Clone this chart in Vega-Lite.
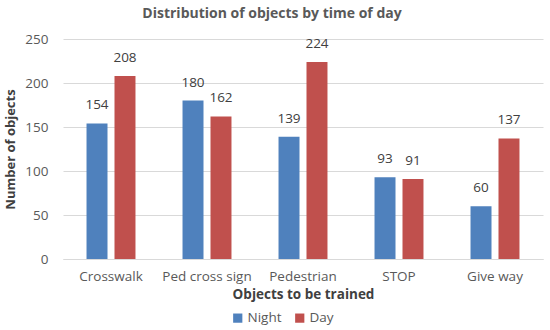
{
  "$schema": "https://vega.github.io/schema/vega-lite/v6.json",
  "width": 480,
  "height": 220,
  "autosize": {"type": "none"},
  "padding": {"left": 63, "right": 7, "top": 39, "bottom": 71},
  "background": "white",
  "title": {"text": "Distribution of objects by time of day", "font": "Open Sans", "fontSize": 14, "fontWeight": "bold", "color": "#595959", "offset": 11, "anchor": "middle", "frame": "group", "dx": -31},
  "data": {"values": [
    {"object": "Crosswalk", "time": "Night", "count": 154},
    {"object": "Crosswalk", "time": "Day", "count": 208},
    {"object": "Ped cross sign", "time": "Night", "count": 180},
    {"object": "Ped cross sign", "time": "Day", "count": 162},
    {"object": "Pedestrian", "time": "Night", "count": 139},
    {"object": "Pedestrian", "time": "Day", "count": 224},
    {"object": "STOP", "time": "Night", "count": 93},
    {"object": "STOP", "time": "Day", "count": 91},
    {"object": "Give way", "time": "Night", "count": 60},
    {"object": "Give way", "time": "Day", "count": 137}
  ]},
  "encoding": {
    "x": {"field": "object", "type": "nominal", "sort": null,
      "scale": {"paddingInner": 0.49, "paddingOuter": 0.245},
      "axis": {"title": "Objects to be trained", "labelAngle": 0, "labelFont": "Open Sans", "labelFontSize": 13.5, "labelColor": "#595959", "titleFont": "Open Sans", "titleFontSize": 13.5, "titleFontWeight": "bold", "titleColor": "#404040", "domain": true, "domainColor": "#d9d9d9", "ticks": false, "labelPadding": 10, "titlePadding": 5}},
    "xOffset": {"field": "time", "type": "nominal", "sort": ["Night", "Day"], "scale": {"paddingInner": 0.25}},
    "y": {"field": "count", "type": "quantitative",
      "scale": {"domain": [0, 250]},
      "axis": {"title": "Number of objects", "values": [0, 50, 100, 150, 200, 250], "labelFont": "Open Sans", "labelFontSize": 13.5, "labelColor": "#595959", "titleFont": "Open Sans", "titleFontSize": 13, "titleFontWeight": "bold", "titleColor": "#404040", "domain": false, "ticks": false, "gridColor": "#d9d9d9", "labelPadding": 15, "titlePadding": 7}}
  },
  "layer": [
    {"mark": {"type": "bar"},
     "encoding": {"color": {"field": "time", "type": "nominal", "sort": ["Night", "Day"],
        "scale": {"domain": ["Night", "Day"], "range": ["#4F81BD", "#C0504D"]},
        "legend": {"title": null, "orient": "none", "legendX": 168, "legendY": 272, "direction": "horizontal", "symbolType": "square", "symbolSize": 85, "symbolStrokeWidth": 0, "labelFont": "Open Sans", "labelFontSize": 13.5, "labelColor": "#595959", "labelOffset": 3, "columnPadding": 11}}}},
    {"mark": {"type": "text", "dy": -18, "font": "Open Sans", "fontSize": 13.5, "color": "#404040"},
     "encoding": {"text": {"field": "count", "type": "quantitative"}}}
  ],
  "config": {"view": {"stroke": null}}
}
